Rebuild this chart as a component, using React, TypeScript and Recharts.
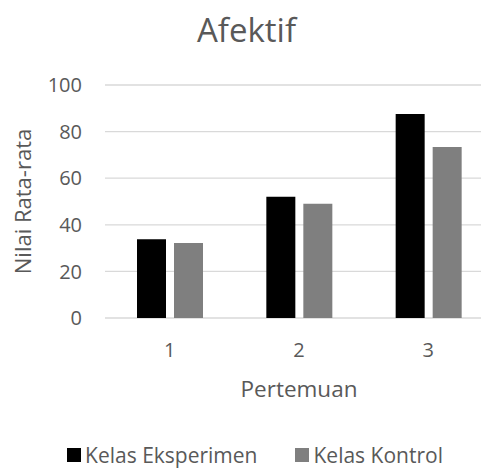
import React from 'react';
import { BarChart, Bar, XAxis, YAxis, CartesianGrid, Legend } from 'recharts';

// Nilai rata-rata afektif per pertemuan
const categories = ['1', '2', '3'];
const kelasEksperimen = [33.8, 52.0, 87.6];
const kelasKontrol = [32.2, 49.0, 73.4];
const yTicks = [0, 20, 40, 60, 80, 100];
const seriesNames = ['Kelas Eksperimen', 'Kelas Kontrol'];
const seriesColors = ['#000000', '#7f7f7f'];

const data = categories.map((c, i) => ({
  pertemuan: c,
  eksperimen: kelasEksperimen[i],
  kontrol: kelasKontrol[i],
}));

const FONT = '"Open Sans", "Noto Sans", sans-serif';
const TEXT = '#595959';

const renderLegend = () => (
  <div
    style={{
      display: 'flex',
      justifyContent: 'center',
      alignItems: 'center',
      fontFamily: FONT,
      fontSize: 21,
      lineHeight: '24px',
      color: TEXT,
      whiteSpace: 'nowrap',
    }}
  >
    {seriesNames.map((name, i) => (
      <div key={name} style={{ display: 'flex', alignItems: 'center', marginRight: i === 0 ? 38 : 0 }}>
        <span
          style={{
            display: 'inline-block',
            width: 14,
            height: 14,
            background: seriesColors[i],
            marginRight: 4,
          }}
        />
        {name}
      </div>
    ))}
  </div>
);

export default function App() {
  return (
    <div
      style={{
        position: 'absolute',
        left: 0,
        top: 0,
        width: 481,
        height: 469,
        overflow: 'hidden',
        background: '#ffffff',
      }}
    >
      <div
        style={{
          position: 'absolute',
          left: 0,
          top: 7,
          width: 493,
          textAlign: 'center',
          fontFamily: FONT,
          fontSize: 33,
          color: TEXT,
          lineHeight: '46px',
        }}
      >
        Afektif
      </div>
      <BarChart
        width={500}
        height={469}
        data={data}
        margin={{ top: 85, right: 7, left: 0, bottom: 0 }}
        barSize={29}
        barGap={8}
        style={{ position: 'absolute', left: 0, top: 0 }}
      >
        <CartesianGrid vertical={false} stroke="#d9d9d9" strokeWidth={1.3} />
        <XAxis
          dataKey="pertemuan"
          height={151}
          axisLine={false}
          tickLine={false}
          tickSize={0}
          tickMargin={25}
          tick={{ fill: TEXT, fontSize: 20, fontFamily: FONT }}
          label={{
            value: 'Pertemuan',
            position: 'insideTop',
            offset: 63,
            fill: TEXT,
            fontSize: 22.5,
            fontFamily: FONT,
          }}
        />
        <YAxis
          width={105}
          domain={[0, 100]}
          ticks={yTicks}
          axisLine={false}
          tickLine={false}
          tickSize={0}
          tickMargin={23}
          tick={{ fill: TEXT, fontSize: 20, fontFamily: FONT }}
          label={{
            value: 'Nilai Rata-rata',
            angle: -90,
            position: 'insideLeft',
            offset: 23,
            fill: TEXT,
            fontSize: 22,
            fontFamily: FONT,
            style: { textAnchor: 'middle' },
          }}
        />
        <Legend
          layout="horizontal"
          verticalAlign="middle"
          align="center"
          content={renderLegend}
          wrapperStyle={{ left: 5, top: 443, width: 500, height: 24 }}
        />
        <Bar dataKey="eksperimen" name={seriesNames[0]} fill={seriesColors[0]} isAnimationActive={false} />
        <Bar dataKey="kontrol" name={seriesNames[1]} fill={seriesColors[1]} isAnimationActive={false} />
      </BarChart>
    </div>
  );
}
